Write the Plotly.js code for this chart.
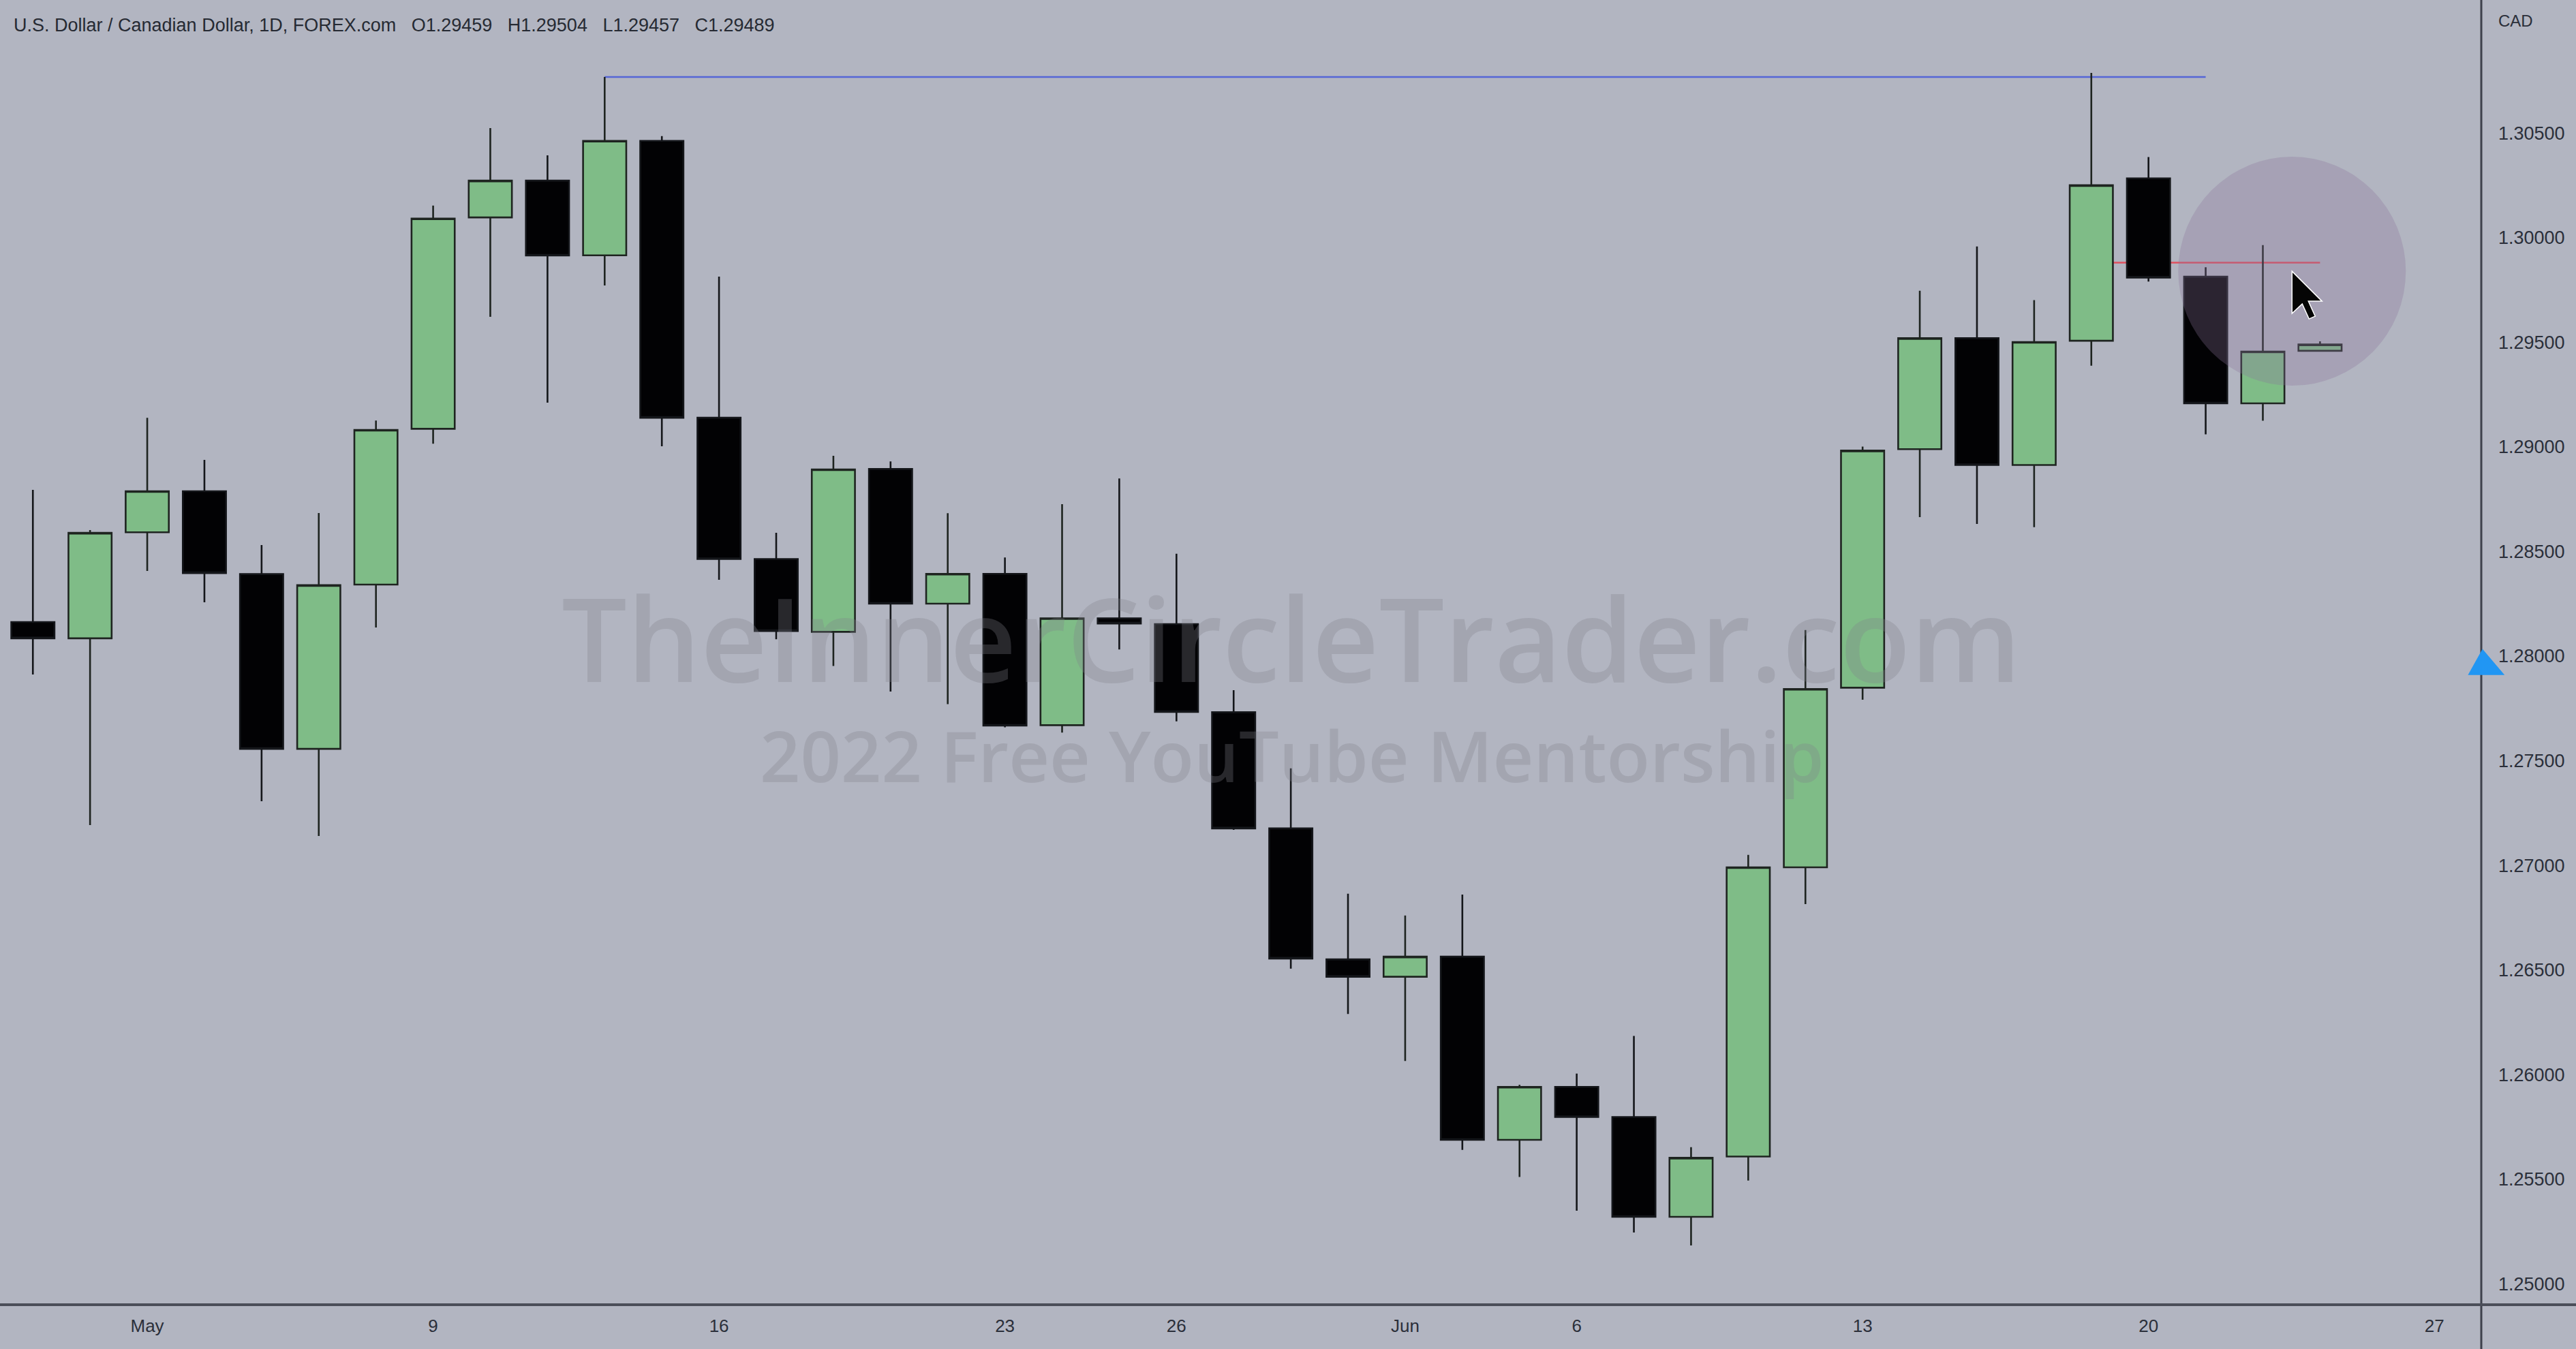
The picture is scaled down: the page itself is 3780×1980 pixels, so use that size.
<!DOCTYPE html>
<html><head><meta charset="utf-8">
<script src="https://cdn.plot.ly/plotly-3.0.1.min.js"></script>
<style>html,body{margin:0;padding:0;background:#b2b5c1;} #chart{width:3780px;height:1980px;}</style>
</head><body><div id="chart"></div>
<script>
// ---- data (USDCAD daily, FOREX.com) ----
const dates = ['2022-04-28','2022-04-29','2022-05-02','2022-05-03','2022-05-04','2022-05-05','2022-05-06',
  '2022-05-09','2022-05-10','2022-05-11','2022-05-12','2022-05-13','2022-05-16','2022-05-17','2022-05-18',
  '2022-05-19','2022-05-20','2022-05-23','2022-05-24','2022-05-25','2022-05-26','2022-05-27','2022-05-30',
  '2022-05-31','2022-06-01','2022-06-02','2022-06-03','2022-06-06','2022-06-07','2022-06-08','2022-06-09',
  '2022-06-10','2022-06-13','2022-06-14','2022-06-15','2022-06-16','2022-06-17','2022-06-20','2022-06-21',
  '2022-06-22','2022-06-23'];
const openP = [1.28163,1.28085,1.28592,1.28788,1.28392,1.27557,1.28342,1.29086,1.30096,1.30272,1.29915,1.30462,
  1.29139,1.28464,1.28116,1.28894,1.28251,1.28393,1.27670,1.28181,1.28153,1.27732,1.27177,1.26551,1.26468,
  1.26564,1.25689,1.25942,1.25798,1.25321,1.25609,1.26991,1.27849,1.28989,1.29519,1.28913,1.29507,1.30283,
  1.29813,1.29208,1.29459];
const highP = [1.28794,1.28602,1.29139,1.28938,1.28531,1.28684,1.29126,1.30153,1.30523,1.30393,1.30767,1.30485,
  1.29813,1.28589,1.28957,1.28930,1.28683,1.28471,1.28726,1.28849,1.28489,1.27837,1.27464,1.26865,1.26761,
  1.26861,1.25952,1.26005,1.26185,1.25654,1.27050,1.28125,1.29001,1.29746,1.29957,1.29701,1.30787,1.30385,
  1.29858,1.29964,1.29504];
const lowP = [1.27912,1.27193,1.28407,1.28257,1.27307,1.27141,1.28137,1.29015,1.29621,1.29211,1.29771,1.29003,
  1.28365,1.28081,1.27953,1.27831,1.27771,1.27660,1.27635,1.28032,1.27688,1.27170,1.26507,1.26290,1.26066,
  1.25641,1.25511,1.25350,1.25246,1.25184,1.25494,1.26815,1.27792,1.28664,1.28632,1.28616,1.29388,1.29790,
  1.29060,1.29125,1.29457];
const closeP = [1.28085,1.28589,1.28788,1.28397,1.27557,1.28339,1.29081,1.30091,1.30272,1.29914,1.30462,1.29139,
  1.28464,1.28120,1.28892,1.28251,1.28393,1.27668,1.28181,1.28156,1.27733,1.27177,1.26555,1.26468,1.26564,
  1.25689,1.25942,1.25798,1.25321,1.25603,1.26991,1.27843,1.28982,1.29519,1.28913,1.29501,1.30250,1.29809,
  1.29208,1.29455,1.29489];

const tickDates = ['2022-05-02','2022-05-09','2022-05-16','2022-05-23','2022-05-26','2022-06-01','2022-06-06',
  '2022-06-13','2022-06-20','2022-06-27'];
const tickText = ['May','9','16','23','26','Jun','6','13','20','27'];
const priceTicks = [1.25,1.255,1.26,1.265,1.27,1.275,1.28,1.285,1.29,1.295,1.30,1.305];

const symbolTitle = 'U.S. Dollar / Canadian Dollar, 1D, FOREX.com';
const currency = 'CAD';
const watermark1 = 'TheInnerCircleTrader.com';
const watermark2 = '2022 Free YouTube Mentorship';
const blueLineFrom = '2022-05-12', blueLineTo = '2022-06-21';
const redLineFrom = '2022-06-17', redLineTo = '2022-06-23', redLevel = 1.2988;
const alertLevel = 1.27915;

// trading-day index (weekends skipped)
function tradingIndex(ds) {
  const start = new Date(dates[0] + 'T00:00:00Z');
  const end = new Date(ds + 'T00:00:00Z');
  let n = 0;
  const d = new Date(start);
  while (d < end) {
    d.setUTCDate(d.getUTCDate() + 1);
    const wd = d.getUTCDay();
    if (wd !== 0 && wd !== 6) n++;
  }
  return n;
}
const xIdx = dates.map(tradingIndex);
const tickVals = tickDates.map(tradingIndex);
const last = dates.length - 1;
const f5 = v => v.toFixed(5);
const nb = '\u00A0\u00A0\u00A0';
const header = symbolTitle + nb + 'O' + f5(openP[last]) + nb + 'H' + f5(highP[last]) + nb + 'L' + f5(lowP[last]) + nb + 'C' + f5(closeP[last]);
const blueLevel = highP[dates.indexOf(blueLineFrom)];

const trace = {
  type: 'candlestick', x: xIdx, open: openP, high: highP, low: lowP, close: closeP,
  increasing: {fillcolor: '#7fbc87', line: {color: '#1e2420', width: 2.6}},
  decreasing: {fillcolor: '#020204', line: {color: '#14161a', width: 2.6}},
  whiskerwidth: 0, hoverinfo: 'skip', showlegend: false
};

const cursorIdx = tradingIndex(redLineTo) - 0.49;
const cursorPrice = 1.29839;

const shapes = [
  {type: 'line', layer: 'below', xref: 'x', yref: 'y', x0: tradingIndex(blueLineFrom), x1: tradingIndex(blueLineTo),
   y0: blueLevel, y1: blueLevel, line: {color: '#5566d6', width: 2.6}},
  {type: 'line', layer: 'below', xref: 'x', yref: 'y', x0: tradingIndex(redLineFrom), x1: tradingIndex(redLineTo),
   y0: redLevel, y1: redLevel, line: {color: '#e0505e', width: 2.4}},
  {type: 'circle', layer: 'above', xref: 'x', yref: 'y', xsizemode: 'pixel', ysizemode: 'pixel',
   xanchor: cursorIdx, yanchor: cursorPrice, x0: -167, x1: 167, y0: -168, y1: 168,
   fillcolor: 'rgba(139,115,157,0.30)', line: {width: 0}},
  {type: 'path', layer: 'above', xref: 'x', yref: 'y', xsizemode: 'pixel', ysizemode: 'pixel',
   xanchor: cursorIdx, yanchor: cursorPrice,
   path: 'M 0 0 L 0 -62 L 15 -48 L 25 -70 L 34 -66 L 24 -44 L 44 -44 Z',
   fillcolor: '#050505', line: {color: '#ffffff', width: 1.5}},
  // separators
  {type: 'line', layer: 'above', xref: 'paper', yref: 'paper', x0: 1, x1: 1, y0: -0.05, y1: 1.01,
   line: {color: '#3d404b', width: 3}},
  {type: 'line', layer: 'above', xref: 'paper', yref: 'paper', x0: -0.01, x1: 1.05, y0: 0, y1: 0,
   line: {color: '#4b4e59', width: 4}},
  // blue alert marker on price scale
  {type: 'path', layer: 'above', xref: 'paper', yref: 'y', xsizemode: 'pixel', ysizemode: 'pixel',
   xanchor: 1, yanchor: alertLevel, path: 'M -17 0 L 2 34 L 31 0 Z',
   fillcolor: '#2196f3', line: {color: '#2196f3', width: 3}}
];

const annotations = [
  {xref: 'paper', yref: 'paper', x: 0, y: 1, xanchor: 'left', yanchor: 'middle', xshift: 18, yshift: -37,
   text: header, showarrow: false, font: {family: 'Liberation Sans', size: 27, color: '#262a33'}},
  {xref: 'paper', yref: 'paper', x: 1, y: 1, xanchor: 'left', yanchor: 'middle', xshift: 23, yshift: -30,
   text: currency, showarrow: false, font: {family: 'Liberation Sans', size: 24, color: '#2b2f3a'}},
  {xref: 'paper', yref: 'paper', x: 0.5205, y: 0.512, xanchor: 'center', yanchor: 'middle',
   text: watermark1, showarrow: false, font: {family: 'Open Sans', size: 170, weight: 600, color: 'rgba(128,130,140,0.30)'}},
  {xref: 'paper', yref: 'paper', x: 0.5205, y: 0.4215, xanchor: 'center', yanchor: 'middle',
   text: watermark2, showarrow: false, font: {family: 'Open Sans', size: 104, weight: 600, color: 'rgba(128,130,140,0.30)'}}
];

const layout = {
  width: 3780, height: 1980,
  margin: {l: 0, r: 139, t: 0, b: 65},
  paper_bgcolor: '#b2b5c1', plot_bgcolor: '#b2b5c1',
  boxgap: 0.245, boxgroupgap: 0,
  showlegend: false,
  xaxis: {range: [-0.575, 42.82], showgrid: false, zeroline: false, showline: false,
    tickvals: tickVals, ticktext: tickText, ticks: '', ticklabelstandoff: 13,
    tickfont: {family: 'Liberation Sans', size: 26, color: '#2b2f3a'},
    rangeslider: {visible: false}, fixedrange: true},
  yaxis: {side: 'right', range: [1.24901, 1.31135], tickvals: priceTicks, tickformat: '.5f',
    showgrid: false, zeroline: false, showline: false, ticks: '', ticklabelstandoff: 24,
    tickfont: {family: 'Liberation Sans', size: 27, color: '#2b2f3a'}, fixedrange: true},
  shapes: shapes, annotations: annotations
};

Plotly.newPlot('chart', [trace], layout, {displayModeBar: false, staticPlot: true});
</script></body></html>
